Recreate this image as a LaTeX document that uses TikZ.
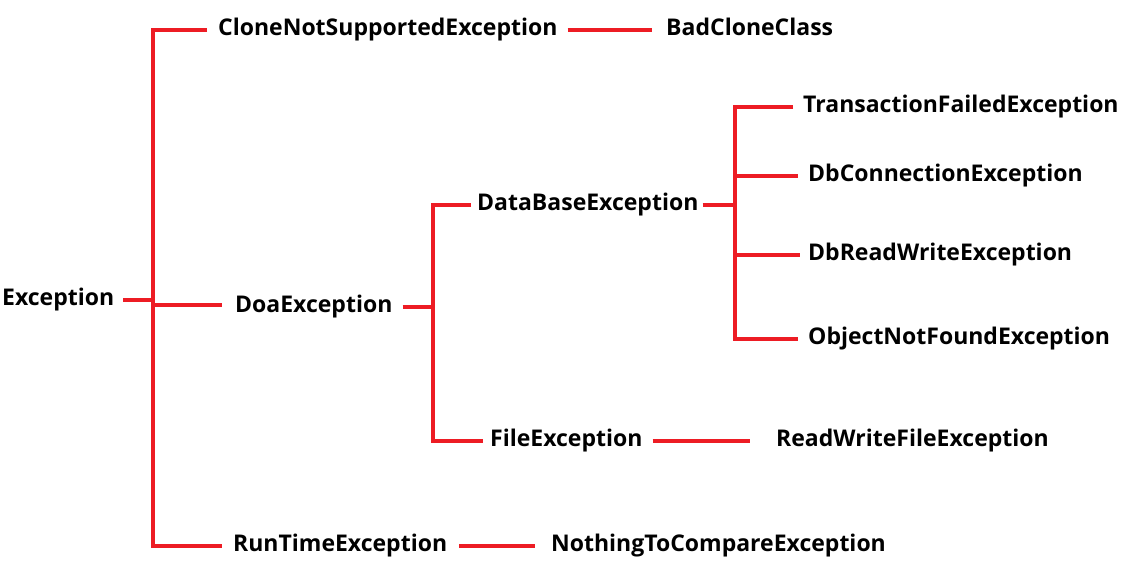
\documentclass[tikz,border=0pt]{standalone}
\usepackage{fontspec}
\setmainfont{Open Sans}
\definecolor{lred}{HTML}{ED1C24}
\begin{document}
\begin{tikzpicture}[x=1pt,y=-1pt,
  lbl/.style={anchor=mid west,inner sep=0pt,yshift=-4pt,font=\fontsize{23}{27}\selectfont\bfseries},
  link/.style={draw=lred,line width=4pt}]
\useasboundingbox (0,0) rectangle (1141,576);
% nodes
\node[lbl] (exc) at (2,299) {Exception};
\node[lbl] (cns) at (218,29) {CloneNotSupportedException};
\node[lbl] (bcc) at (666,29) {BadCloneClass};
\node[lbl] (doa) at (235,306) {DoaException};
\node[lbl] (rte) at (233,545) {RunTimeException};
\node[lbl] (ntc) at (551,545) {NothingToCompareException};
\node[lbl] (dbe) at (477,204) {DataBaseException};
\node[lbl] (fil) at (490,440) {FileException};
\node[lbl] (rwf) at (776,440) {ReadWriteFileException};
\node[lbl] (tfe) at (803,106) {TransactionFailedException};
\node[lbl] (dbc) at (808,175) {DbConnectionException};
\node[lbl] (drw) at (808,254) {DbReadWriteException};
\node[lbl] (onf) at (808,338) {ObjectNotFoundException};
% junctions
\coordinate (j1) at (153,305);
\coordinate (j2) at (433,307);
\coordinate (j3) at (735,205);
% connectors
\draw[link] ([xshift=-11pt]cns.west) -| (j1) |- ([xshift=-11pt]rte.west);
\draw[link] ([xshift=9pt]exc.east) -- (j1 |- exc.east);
\draw[link] (j1) -- ([xshift=-13pt]doa.west |- j1);
\draw[link] ([xshift=10pt]cns.east) -- ([xshift=-14pt]bcc.west |- cns.east);
\draw[link] ([xshift=10pt]doa.east |- j2) -- (j2);
\draw[link] ([xshift=-6pt]dbe.west) -| (j2) |- ([xshift=-7pt]fil.west);
\draw[link] ([xshift=10pt]fil.east) -- ([xshift=-26pt]rwf.west |- fil.east);
\draw[link] ([xshift=12pt]rte.east) -- ([xshift=-16pt]ntc.west |- rte.east);
\draw[link] ([xshift=4pt]dbe.east |- j3) -- (j3);
\draw[link] ([xshift=-10pt]tfe.west) -| (j3) |- ([xshift=-10pt]onf.west);
\draw[link] (j3 |- dbc.west) -- ([xshift=-10pt]dbc.west);
\draw[link] (j3 |- drw.west) -- ([xshift=-8pt]drw.west);
\end{tikzpicture}
\end{document}
